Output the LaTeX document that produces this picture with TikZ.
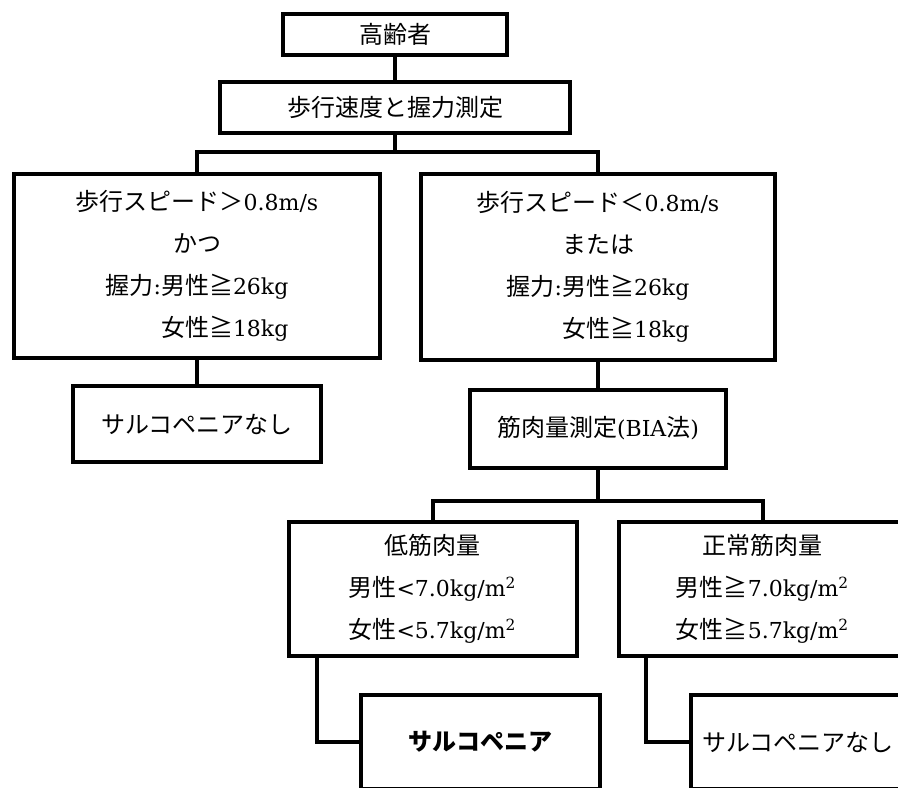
\documentclass[tikz,border=0pt]{standalone}
\usepackage{fontspec}
\newfontfamily\jpfont{Noto Sans CJK JP}
\newfontfamily\latfont{DejaVu Serif}
\newcommand\lat[1]{{\latfont\fontsize{11pt}{21pt}\selectfont #1}}
\usetikzlibrary{positioning}
\tikzset{
        flowbox/.style={draw=black, line width=2pt, align=center, inner sep=0pt, fill=white,
                font=\fontsize{12pt}{21pt}\selectfont\jpfont},
        % Measurement steps
        node_step/.style={flowbox, rectangle},
        % Condition boxes (several lines)
        node_cond/.style={flowbox, rectangle},
        % Results
        node_result/.style={flowbox, rectangle}
}

\begin{document}
\begin{tikzpicture}[
            x=0.5pt, y=-0.5pt,
            link/.style={draw=black, line width=2pt}
        ]
            \useasboundingbox (0,0) rectangle (898,787);
            \clip (0,0) rectangle (898,787);

            \node[node_step, minimum width=112pt, minimum height=20.5pt] (elderly) at (395,34) {高齢者};
            \node[node_step, minimum width=175pt, minimum height=25.5pt] (measure) at (395,107) {歩行速度と握力測定};
            \coordinate (split_top) at (395,152);

            \node[node_cond, minimum width=183pt, minimum height=92pt] (fast_walk) at (197,266)
                {歩行スピード＞\lat{0.8m/s}\\かつ\\握力\lat{:}男性≧\lat{26kg}\\\phantom{握力\lat{:}}女性≧\lat{18kg}};
            \node[node_cond, minimum width=177pt, minimum height=93pt] (slow_walk) at (598,267)
                {歩行スピード＜\lat{0.8m/s}\\または\\握力\lat{:}男性≧\lat{26kg}\\\phantom{握力\lat{:}}女性≧\lat{18kg}};

            \node[node_result, minimum width=124pt, minimum height=38pt] (no_sarco_a) at (197,424) {サルコペニアなし};
            \node[node_step, minimum width=128pt, minimum height=39pt] (bia) at (598,428.5) {筋肉量測定\lat{(BIA}法\lat{)}};
            \coordinate (split_mid) at (598,501);

            \node[node_cond, minimum width=144pt, minimum height=67pt] (low_mass) at (432.5,589)
                {低筋肉量\\男性\lat{<7.0kg/m\textsuperscript{2}}\\女性\lat{<5.7kg/m\textsuperscript{2}}};
            \node[node_cond, minimum width=144pt, minimum height=67pt] (normal_mass) at (762.5,589)
                {正常筋肉量\\男性≧\lat{7.0kg/m\textsuperscript{2}}\\女性≧\lat{5.7kg/m\textsuperscript{2}}};

            \node[node_result, minimum width=119.5pt, minimum height=47pt, font=\fontsize{12pt}{21pt}\selectfont\jpfont\bfseries] (sarco) at (480.5,742) {サルコペニア};
            \node[node_result, minimum width=107pt, minimum height=47pt] (no_sarco_b) at (798,742) {サルコペニアなし};

            % connectors
            \draw[link] (elderly) -- (measure);
            \draw[link] (measure) -- (split_top);
            \draw[link] (fast_walk.north) |- (split_top) -| (slow_walk.north);
            \draw[link] (fast_walk) -- (no_sarco_a);
            \draw[link] (slow_walk) -- (bia);
            \draw[link] (bia) -- (split_mid);
            \draw[link] (low_mass.north) |- (split_mid) -| (normal_mass.north);
            \draw[link] ([xshift=15pt]low_mass.south west) |- (sarco.west);
            \draw[link] ([xshift=14.5pt]normal_mass.south west) |- (no_sarco_b.west);
        \end{tikzpicture}
\end{document}
